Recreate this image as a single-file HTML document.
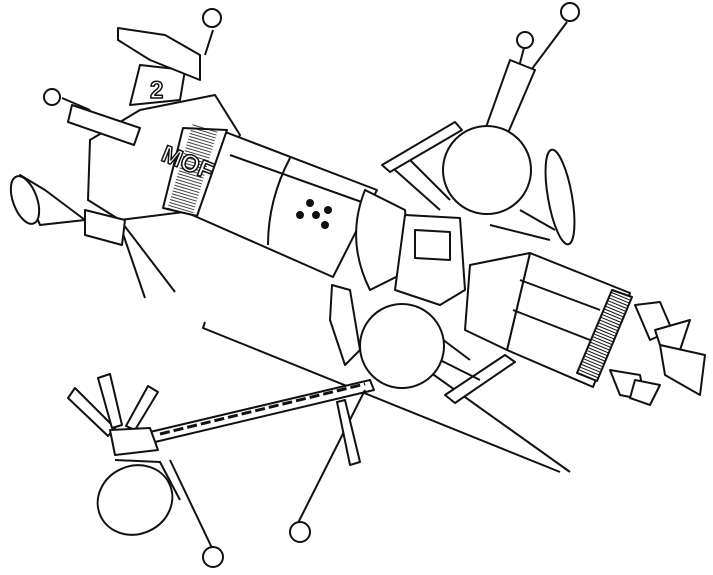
<!DOCTYPE html><html><head><style>body{margin:0;background:#fff}svg{display:block}</style></head><body>
<svg width="713" height="575" viewBox="0 0 713 575" xmlns="http://www.w3.org/2000/svg" fill="none" stroke="#111" stroke-width="2" stroke-linejoin="round">
<rect width="713" height="575" fill="#fff" stroke="none"/>
<!-- long beams -->
<path d="M205 322 L203 328 L560 472"/>
<path d="M150 432 L370 380 L374 390 L155 442 Z" fill="#fff"/>
<path d="M160 434 L365 384" stroke-width="3" stroke-dasharray="10 4"/>
<path d="M420 365 L570 472"/>
<!-- antennas -->
<path d="M213 30 L205 55 M567 22 L505 105 M524 48 L510 100 M62 98 L90 110 M212 548 L170 460 M298 523 L365 390 M120 220 L175 292 M120 225 L145 298"/>
<circle cx="212" cy="18" r="9"/><circle cx="570" cy="12" r="9"/><circle cx="525" cy="40" r="8"/><circle cx="52" cy="97" r="8"/><circle cx="213" cy="557" r="10"/><circle cx="300" cy="532" r="10"/>
<!-- upper mast -->
<path d="M510 60 L535 70 L505 140 L485 130 Z" fill="#fff"/>
<!-- left module -->
<path d="M90 140 L140 110 L215 95 L240 135 L200 210 L120 220 L88 200 Z" fill="#fff"/>
<path d="M140 65 L185 70 L180 100 L130 105 Z" fill="#fff"/>
<text x="150" y="98" font-family="Liberation Sans,sans-serif" font-size="24" font-weight="bold" fill="#fff" stroke="#111" stroke-width="1.5">2</text>
<path d="M118 28 L165 35 L200 55 L200 80 L150 60 L118 40 Z" fill="#fff"/>
<path d="M72 105 L140 128 L134 145 L68 122 Z" fill="#fff"/>
<!-- main body -->
<path d="M220 130 L377 190 L333 277 L190 214 Z" fill="#fff"/>
<path d="M183 128 L227 130 L197 216 L163 208 Z" fill="#fff"/>
<path d="M205 128 L180 212" stroke-width="26" stroke="#111" stroke-dasharray="1 2" opacity="0.8"/>
<path d="M290 158 Q268 200 268 245 M230 155 L370 205"/>
<text x="160" y="160" font-family="Liberation Sans,sans-serif" font-size="24" font-weight="bold" fill="#fff" stroke="#111" stroke-width="1.5" transform="rotate(22 160 160)">MOF</text>
<circle cx="310" cy="203" r="3" fill="#111"/><circle cx="300" cy="215" r="3" fill="#111"/><circle cx="316" cy="215" r="3" fill="#111"/><circle cx="328" cy="210" r="3" fill="#111"/><circle cx="325" cy="225" r="3" fill="#111"/>
<!-- cone to hub -->
<path d="M365 190 Q345 240 370 290 L410 270 L405 210 Z" fill="#fff"/>
<!-- paddles upper -->
<path d="M382 165 L455 122 L462 130 L390 172 Z" fill="#fff"/>
<path d="M395 170 L440 210 M410 160 L450 200"/>
<ellipse cx="560" cy="197" rx="12" ry="48" transform="rotate(-10 560 197)" fill="#fff"/>
<path d="M520 210 L555 230 M490 225 L550 240"/>
<circle cx="487" cy="170" r="44" fill="#fff"/>
<!-- hub -->
<path d="M405 215 L460 218 L465 290 L440 305 L395 290 Z" fill="#fff"/>
<path d="M415 230 L450 232 L450 260 L415 258 Z"/>
<!-- right cylinder -->
<path d="M530 253 L630 293 L593 387 L507 350 Z" fill="#fff"/>
<path d="M470 265 L530 253 L507 350 L465 330 Z" fill="#fff"/>
<path d="M520 280 L600 310 M513 310 L590 340"/>
<path d="M612 290 L632 297 L597 381 L577 373 Z" fill="#fff"/>
<path d="M622 293 L587 377" stroke-width="20" stroke-dasharray="1 2"/>
<!-- rockets -->
<g fill="#fff"><path d="M635 305 L660 302 L672 330 L650 340 Z"/><path d="M655 330 L690 320 L680 350 L660 345 Z"/><path d="M660 345 L705 355 L700 395 L665 375 Z"/><path d="M610 370 L640 375 L645 400 L620 395 Z"/><path d="M635 380 L660 385 L650 405 L630 398 Z"/></g>
<!-- lower sphere and paddles -->
<path d="M332 285 L350 290 L360 350 L345 365 L330 320 Z" fill="#fff"/>
<path d="M445 395 L505 355 L515 362 L455 403 Z" fill="#fff"/>
<path d="M440 360 L480 380 M430 330 L470 360"/>
<circle cx="402" cy="346" r="42" fill="#fff"/>
<path d="M345 400 L360 462 L350 465 L337 402 Z" fill="#fff"/>
<!-- left thruster -->
<path d="M20 175 L45 190 L85 220 L40 225 Z" fill="#fff"/>
<ellipse cx="25" cy="200" rx="12" ry="25" transform="rotate(-20 25 200)" fill="#fff"/>
<path d="M85 210 L125 220 L122 245 L85 235 Z" fill="#fff"/>
<!-- lower-left assembly -->
<g fill="#fff">
<path d="M68 398 L75 388 L115 428 L108 436 Z"/>
<path d="M98 378 L110 374 L122 425 L112 428 Z"/>
<path d="M148 386 L158 392 L135 430 L126 426 Z"/>
</g>
<path d="M110 430 L150 428 L158 450 L115 455 Z" fill="#fff"/>
<ellipse cx="135" cy="500" rx="38" ry="34" transform="rotate(-25 135 500)" fill="#fff"/>
<path d="M115 460 L160 462 L180 500"/>
</svg>
</body></html>
